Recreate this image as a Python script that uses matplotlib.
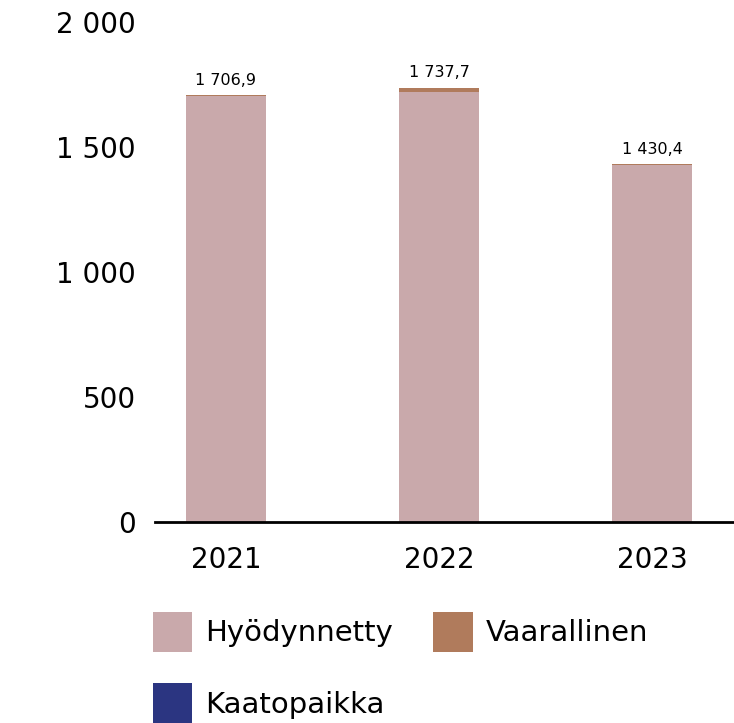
import matplotlib
matplotlib.use("Agg")
import matplotlib.pyplot as plt
import numpy as np

years = ["2021", "2022", "2023"]
hyodynnetty = [1703.0, 1721.7, 1427.0]
vaarallinen = [3.9, 16.0, 3.4]
kaatopaikka = [0.0, 0.0, 0.0]
totals = [1706.9, 1737.7, 1430.4]
yticks = [0, 500, 1000, 1500, 2000]

colors = ["#c9a9ab", "#b07b5c", "#2b3581"]

plt.rcParams['font.family'] = ['DejaVu Sans']


def fi_num(v, dec=0):
    s = f"{v:,.{dec}f}"
    return s.replace(",", " ").replace(".", ",")


fig = plt.figure(figsize=(7.34, 7.23), dpi=100)
ax = fig.add_axes([155 / 734, 1 - 522 / 723, 1 - 155 / 734, 500 / 723])

x = np.arange(len(years))
w = 0.376
b1 = ax.bar(x, hyodynnetty, w, color=colors[0], label="Hyödynnetty")
bottom = np.array(hyodynnetty)
b2 = ax.bar(x, vaarallinen, w, bottom=bottom, color=colors[1], label="Vaarallinen")
bottom = bottom + np.array(vaarallinen)
b3 = ax.bar(x, kaatopaikka, w, bottom=bottom, color=colors[2], label="Kaatopaikka")

for xi, t in zip(x, totals):
    ax.text(xi, t + 30, fi_num(t, 1), ha="center", va="bottom", fontsize=11.5)

ax.set_xlim(-0.333, 2.385)
ax.set_ylim(0, 2000)
ax.set_yticks(yticks)
ax.set_yticklabels([fi_num(v) for v in yticks])
ax.set_xticks(x)
ax.set_xticklabels(years)
ax.tick_params(axis="y", length=0, pad=14, labelsize=20)
ax.tick_params(axis="x", length=0, pad=17, labelsize=20)
for s in ["top", "right", "left"]:
    ax.spines[s].set_visible(False)
ax.spines["bottom"].set_linewidth(2)
ax.spines["bottom"].set_color("black")

# column-major fill: put Kaatopaikka on the second row
handles = [b1, b3, b2]
fig.legend(handles, [h.get_label() for h in handles], loc="upper left",
           bbox_to_anchor=(141 / 734, 1 - 600 / 723), ncol=2, frameon=False,
           fontsize=21, handlelength=1.35, handleheight=1.75, handletextpad=0.45,
           columnspacing=1.38, labelspacing=1.08, borderaxespad=0)

fig.savefig("out.png", dpi=100)
